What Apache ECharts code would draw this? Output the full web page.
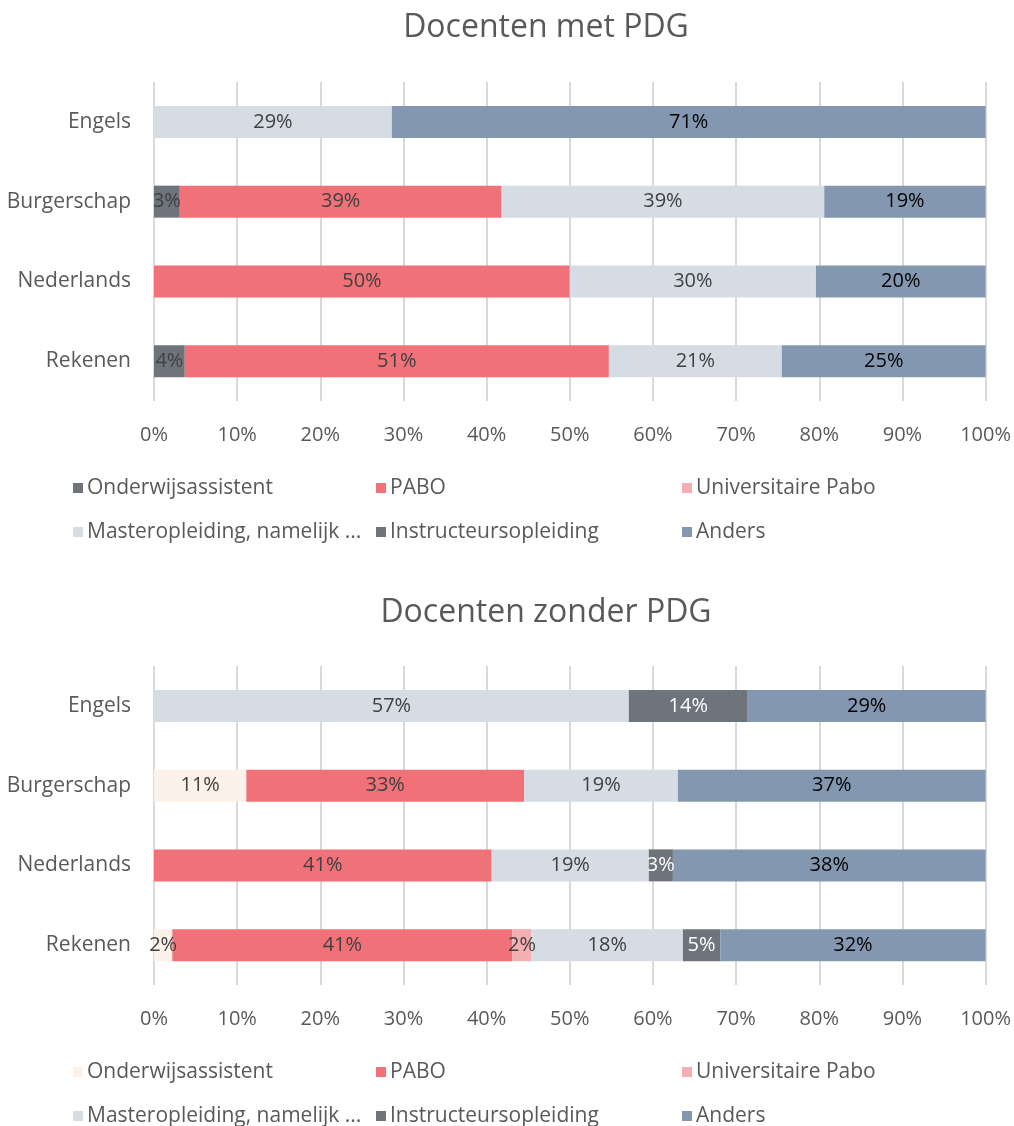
<!DOCTYPE html>
<html>
<head>
<meta charset="utf-8">
<script src="https://cdn.jsdelivr.net/npm/echarts@6/dist/echarts.min.js"></script>
<style>
html,body{margin:0;padding:0;background:#fff;overflow:hidden;}
#c1{width:1014px;height:563px;}
#c2{width:1014px;height:620px;}
</style>
</head>
<body>
<div id="c1"></div>
<div id="c2"></div>
<script>
var categories = ['Engels', 'Burgerschap', 'Nederlands', 'Rekenen'];
var seriesNames = ['Onderwijsassistent', 'PABO', 'Universitaire Pabo', 'Masteropleiding, namelijk ...', 'Instructeursopleiding', 'Anders'];
var xTicks = [0, 10, 20, 30, 40, 50, 60, 70, 80, 90, 100];

// Docenten met PDG (order: Engels, Burgerschap, Nederlands, Rekenen)
var metOnderwijs = [null, 3.1, null, 3.7];
var metPabo = [null, 38.7, 50.0, 51.0];
var metUniv = [null, null, null, null];
var metMaster = [28.6, 38.8, 29.6, 20.8];
var metInstructeur = [null, null, null, null];
var metAnders = [71.4, 19.4, 20.4, 24.5];

// Docenten zonder PDG
var zonderOnderwijs = [null, 11.1, null, 2.2];
var zonderPabo = [null, 33.4, 40.6, 40.9];
var zonderUniv = [null, null, null, 2.3];
var zonderMaster = [57.1, 18.5, 18.9, 18.2];
var zonderInstructeur = [14.3, null, 2.9, 4.5];
var zonderAnders = [28.6, 37.0, 37.6, 31.9];

var FONT = 'Open Sans';
var TXT = '#595959';
var FS = 20;
var FS_BIG = 21;

function makeOption(title, titleTop, gridTop, legendTop, data, colors, labelColors) {
  var series = seriesNames.map(function (n, i) {
    return {
      name: n, type: 'bar', stack: 'total', barWidth: 32,
      data: data[i],
      itemStyle: { color: colors[i] },
      label: {
        show: true, position: 'inside', fontFamily: FONT, fontSize: FS,
        color: labelColors[i],
        formatter: function (p) { return p.value == null ? '' : Math.round(p.value) + '%'; }
      },
      emphasis: { disabled: true }
    };
  });
  function legendCol(left, names) {
    return {
      orient: 'vertical', left: left, top: legendTop, itemWidth: 10, itemHeight: 10,
      itemGap: 22, icon: 'rect', selectedMode: false,
      textStyle: { fontFamily: FONT, fontSize: FS_BIG, color: TXT, lineHeight: 22, padding: [0, 0, 0, -1] },
      data: names
    };
  }
  return {
    backgroundColor: '#fff',
    animation: false,
    title: {
      text: title, left: 541, textAlign: 'center', top: titleTop,
      textStyle: { fontFamily: FONT, fontSize: 32, fontWeight: 'normal', color: TXT }
    },
    legend: [
      legendCol(68, [seriesNames[0], seriesNames[3]]),
      legendCol(371, [seriesNames[1], seriesNames[4]]),
      legendCol(677, [seriesNames[2], seriesNames[5]])
    ],
    grid: { left: 154, right: 28, top: gridTop, height: 319, containLabel: false },
    xAxis: {
      type: 'value', min: 0, max: 100, interval: 10,
      axisLine: { show: false }, axisTick: { show: false },
      splitLine: { lineStyle: { color: '#D9D9D9', width: 2 } },
      axisLabel: { formatter: '{value}%', fontFamily: FONT, fontSize: FS, color: TXT, margin: 24 }
    },
    yAxis: {
      type: 'category', inverse: true, data: categories,
      axisLine: { show: false }, axisTick: { show: false },
      axisLabel: { fontFamily: FONT, fontSize: FS_BIG, color: TXT, margin: 23 }
    },
    series: series
  };
}

var c1 = echarts.init(document.getElementById('c1'));
c1.setOption(makeOption('Docenten met PDG', 7, 82, 472,
  [metOnderwijs, metPabo, metUniv, metMaster, metInstructeur, metAnders],
  ['#6E747B', '#F07178', '#F4AFB3', '#D6DCE4', '#6E747B', '#8497B0'],
  ['#404040', '#404040', '#404040', '#404040', '#FFFFFF', '#000000']));

var c2 = echarts.init(document.getElementById('c2'));
c2.setOption(makeOption('Docenten zonder PDG', 29, 103, 493,
  [zonderOnderwijs, zonderPabo, zonderUniv, zonderMaster, zonderInstructeur, zonderAnders],
  ['#FCF2E9', '#F07178', '#F4AFB3', '#D6DCE4', '#6E747B', '#8497B0'],
  ['#404040', '#404040', '#404040', '#404040', '#FFFFFF', '#000000']));
</script>
</body>
</html>
